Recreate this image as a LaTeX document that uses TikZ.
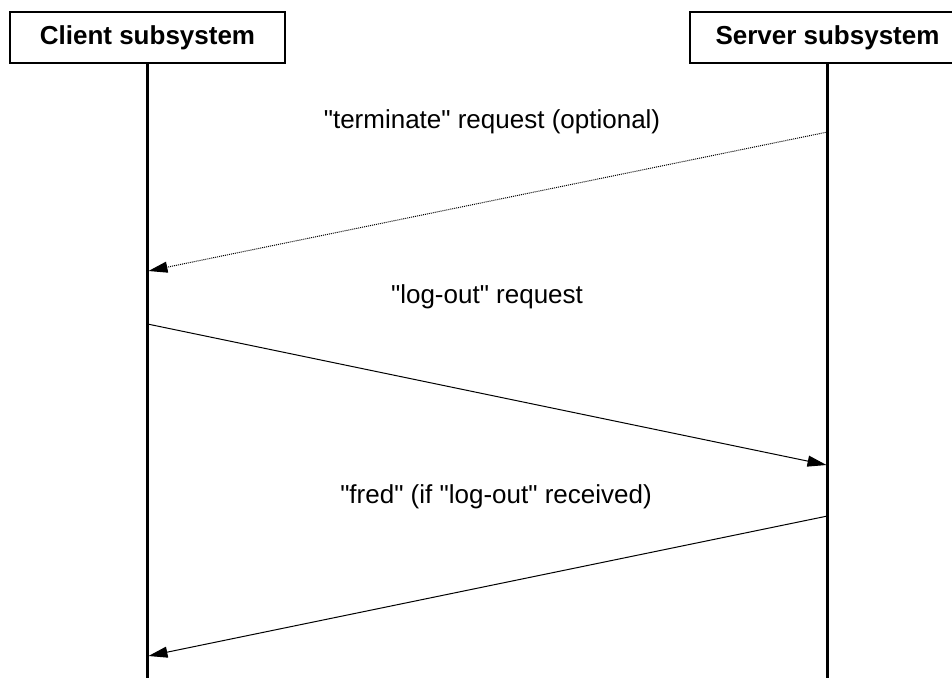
\documentclass[tikz,border=0pt]{standalone}
\usepackage{fontspec}
\setmainfont{Liberation Sans}[Ligatures=TeXOff]
\usetikzlibrary{arrows.meta}
\begin{document}
\begin{tikzpicture}[x=1pt,y=-1pt,
  actor/.style={draw,line width=2.2pt,minimum width=275pt,minimum height=51pt,inner sep=0pt,font=\fontsize{26}{30}\selectfont\bfseries},
  lifeline/.style={line width=2.4pt},
  msg/.style={line width=1pt,-{Triangle[length=19pt,width=11pt]}},
  lbl/.style={font=\fontsize{26}{30}\selectfont,inner sep=0pt}]
\useasboundingbox (0,0) rectangle (952,677);
\node[actor] (client) at (147.5,37.5) {Client subsystem};
\node[actor] (server) at (827.5,37.5) {Server subsystem};
\coordinate (cb) at (147.5,680);
\coordinate (sb) at (827.5,680);
\draw[lifeline] (client.south) -- (cb);
\draw[lifeline] (server.south) -- (sb);
\coordinate (m1s) at (827.5,132);
\coordinate (m1e) at (148.5,271);
\coordinate (m2s) at (147.5,324);
\coordinate (m2e) at (826.5,465);
\coordinate (m3s) at (827.5,516);
\coordinate (m3e) at (148.5,656);
\draw[msg,densely dotted] (m1s) -- (m1e);
\draw[msg] (m2s) -- (m2e);
\draw[msg] (m3s) -- (m3e);
\node[lbl] (l1) at (492,122) {"terminate" request (optional)};
\node[lbl] (l2) at (487,297) {"log-out" request};
\node[lbl] (l3) at (496,497) {"fred" (if "log-out" received)};
\end{tikzpicture}
\end{document}
